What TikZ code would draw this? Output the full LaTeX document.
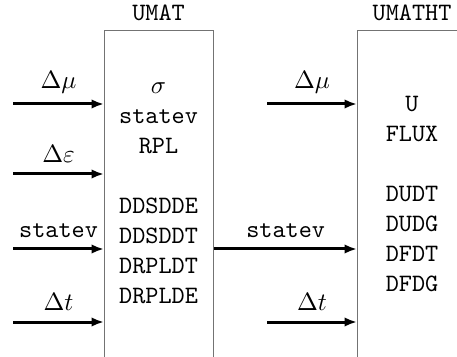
\documentclass[tikz,border=0pt]{standalone}
\usetikzlibrary{arrows.meta}
\tikzset{
  routine/.style={draw=black!55, line width=0.5pt, anchor=north west, minimum height=140pt, inner sep=0pt},
  signal/.style={->, line width=1.2pt},
  outlist/.style={font=\ttfamily, align=center},
}
\begin{document}
\begin{tikzpicture}[x=0.4pt, y=-0.4pt, >={Latex[length=5pt,width=3.8pt]}]
  \useasboundingbox (0,0) rectangle (457,357);
  \clip (0,0) rectangle (457,357);

  % Routine UMAT
  \node[routine, minimum width=43.6pt] (umat) at (104,30) {};
  \node[font=\ttfamily] (umatname) at (158.5,13) {UMAT};
  \node[outlist] (umatout) at (158.5,193) {$\sigma$\\statev\\RPL\\[12pt]DDSDDE\\DDSDDT\\DRPLDT\\DRPLDE};

  % Eingaenge UMAT
  \coordinate (inmu) at (13,104);
  \coordinate (ineps) at (13,174);
  \coordinate (insv) at (13,249);
  \coordinate (indt) at (13,322);
  \draw[signal] (inmu) -- (inmu -| umat.west) node[midway,above=0.5pt] {$\Delta\mu$};
  \draw[signal] (ineps) -- (ineps -| umat.west) node[midway,above=0.5pt] {$\Delta\varepsilon$};
  \draw[signal] (insv) -- (insv -| umat.west) node[midway,above=0.5pt] {\ttfamily statev};
  \draw[signal] (indt) -- (indt -| umat.west) node[midway,above=0.5pt] {$\Delta t$};

  % Routine UMATHT
  \node[routine, minimum width=44pt] (umatht) at (357,30) {};
  \node[font=\ttfamily] (umathtname) at (412,13) {UMATHT};
  \node[outlist] (umathtout) at (412,194) {U\\FLUX\\[12pt]DUDT\\DUDG\\DFDT\\DFDG};

  % Eingaenge UMATHT
  \coordinate (htmu) at (267,104);
  \coordinate (htdt) at (267,322);
  \draw[signal] (htmu) -- (htmu -| umatht.west) node[midway,above=0.5pt] {$\Delta\mu$};
  \draw[signal] (umat.east |- insv) -- (umatht.west |- insv) node[midway,above=0.5pt] {\ttfamily statev};
  \draw[signal] (htdt) -- (htdt -| umatht.west) node[midway,above=0.5pt] {$\Delta t$};
\end{tikzpicture}
\end{document}
